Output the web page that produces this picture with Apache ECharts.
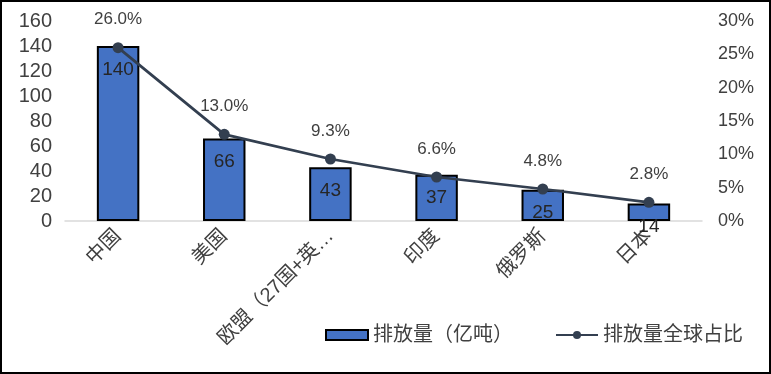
<!DOCTYPE html>
<html><head><meta charset="utf-8">
<script src="https://cdn.jsdelivr.net/npm/echarts@6/dist/echarts.min.js"></script>
<style>
html,body{margin:0;padding:0;background:#fff;}
#wrap{position:absolute;left:0;top:0;width:767px;height:370px;border:2px solid #000;}
#c{width:767px;height:370px;}
</style></head><body>
<div id="wrap"><div id="c"></div></div>
<script>
var categories = ['中国', '美国', '欧盟（27国+英…', '印度', '俄罗斯', '日本'];
var emissions = [140, 66, 43, 37, 25, 14];
var shares = [26.0, 13.0, 9.3, 6.6, 4.8, 2.8];
var leftTicks = [0, 160, 20];
var rightTicks = [0, 30, 5];

var FONT = '"Liberation Sans", "Noto Sans CJK SC", sans-serif';
var chart = echarts.init(document.getElementById('c'));
chart.setOption({
  animation: false,
  textStyle: {fontFamily: FONT},
  grid: {left: 63, right: 67, top: 19, bottom: 151},
  legend: {
    top: 318, left: 318, itemGap: 42, itemWidth: 42, itemHeight: 10,
    textStyle: {fontSize: 20, color: '#404040', fontFamily: FONT},
    data: [
      {name: '排放量（亿吨）', icon: 'rect'},
      {name: '排放量全球占比'}
    ]
  },
  xAxis: {
    type: 'category', data: categories,
    axisLine: {lineStyle: {color: '#d9d9d9', width: 1.5}},
    axisTick: {show: false},
    axisLabel: {rotate: 45, fontSize: 20, color: '#404040', margin: 12, interval: 0}
  },
  yAxis: [
    {type: 'value', min: leftTicks[0], max: leftTicks[1], interval: leftTicks[2],
     splitLine: {show: false}, axisLine: {show: false}, axisTick: {show: false},
     axisLabel: {fontSize: 20, color: '#404040', margin: 13}},
    {type: 'value', min: rightTicks[0], max: rightTicks[1], interval: rightTicks[2],
     splitLine: {show: false}, axisLine: {show: false}, axisTick: {show: false},
     axisLabel: {fontSize: 18, color: '#404040', margin: 16, formatter: '{value}%'}}
  ],
  series: [
    {name: '排放量（亿吨）', type: 'bar', data: emissions, barWidth: '40%',
     itemStyle: {color: '#4472c4', borderColor: '#000', borderWidth: 2},
     label: {show: true, position: 'insideTop', distance: 14, fontSize: 19, color: '#262626'}},
    {name: '排放量全球占比', type: 'line', yAxisIndex: 1, data: shares,
     symbol: 'circle', symbolSize: 11,
     lineStyle: {color: '#333f50', width: 2.75},
     itemStyle: {color: '#333f50'},
     label: {show: true, position: 'top', distance: 14, fontSize: 17, color: '#404040',
       formatter: function(p){return p.value.toFixed(1) + '%';}}}
  ]
});
</script></body></html>
